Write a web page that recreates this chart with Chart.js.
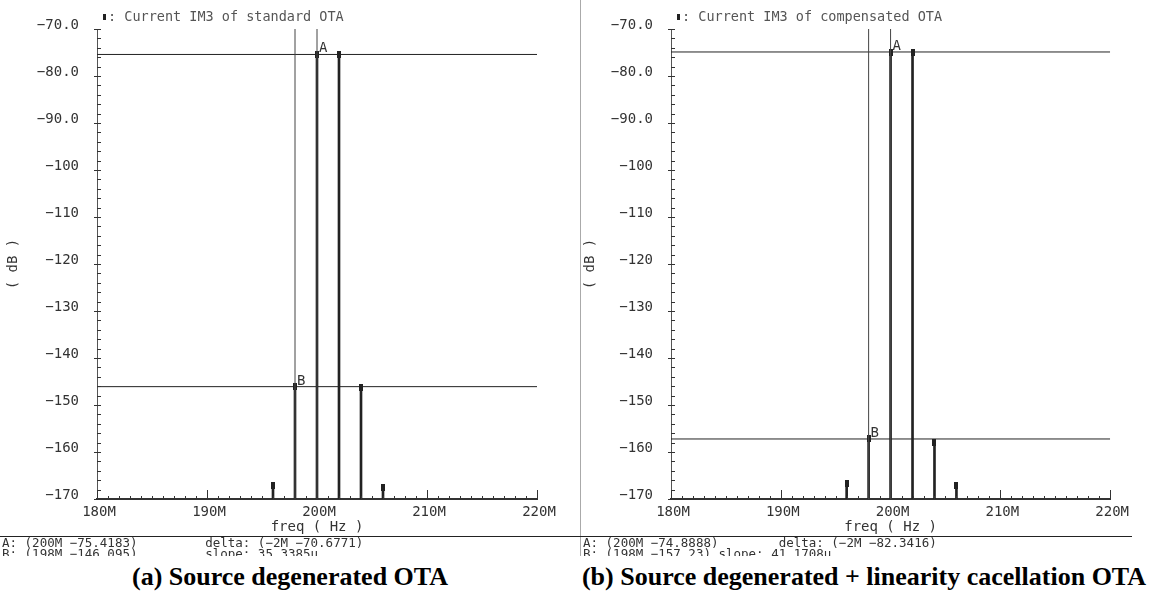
<!DOCTYPE html>
<html>
<head>
<meta charset="utf-8">
<script src="https://cdn.jsdelivr.net/npm/chart.js@4/dist/chart.umd.min.js"></script>
<style>
body { margin: 0; width: 1150px; height: 596px; background: #fff; overflow: hidden; position: relative; font-family: "DejaVu Sans Mono", monospace; }
.panel { position: absolute; top: 0; height: 540px; }
#leftWrap { left: 0; width: 580px; }
#rightWrap { left: 580px; width: 552px; }
.sep { position: absolute; left: 580px; top: 0; width: 1px; height: 556px; background: #aaa; }
.rule { position: absolute; top: 536px; height: 1px; background: #222; }
.readout { position: absolute; top: 537px; height: 19px; overflow: hidden; font-size: 12.5px; line-height: 11px; color: #333; white-space: pre; }
.caption { position: absolute; top: 562px; font-family: "Liberation Serif", serif; font-weight: bold; font-size: 26px; text-align: center; color: #000; }
</style>
</head>
<body>
<div class="panel" id="leftWrap"><canvas id="leftChart"></canvas></div>
<div class="panel" id="rightWrap"><canvas id="rightChart"></canvas></div>
<div class="sep"></div>
<div class="rule" style="left:0;width:580px"></div>
<div class="rule" style="left:580px;width:552px"></div>
<div class="readout" style="left:2px;width:570px">A: (200M −75.4183)         delta: (−2M −70.6771)
B: (198M −146.095)         slope: 35.3385u</div>
<div class="readout" style="left:583px;width:548px">A: (200M −74.8888)        delta: (−2M −82.3416)
B: (198M −157.23) slope: 41.1708u</div>
<div class="caption" style="left:0;width:580px">(a) Source degenerated OTA</div>
<div class="caption" style="left:578px;width:572px">(b) Source degenerated + linearity cacellation OTA</div>

<script>
// tone frequencies (MHz) and IM3 levels (dB)
const freqs = [196, 198, 200, 202, 204, 206];
const im3Standard = [-167.1, -146.1, -75.4, -75.4, -146.2, -167.5];
const im3Compensated = [-166.7, -157.2, -74.9, -74.9, -157.9, -167.2];

// cursor readouts [freq, dB]
const cursorAStd = [200, -75.4183];
const cursorBStd = [198, -146.095];
const cursorAComp = [200, -74.8888];
const cursorBComp = [198, -157.23];

const xMin = 180, xMax = 220;
const yMin = -170, yMax = -70;
const xTickLabels = ['180M', '190M', '200M', '210M', '220M'];
const yTickLabels = ['−170', '−160', '−150', '−140', '−130', '−120', '−110', '−100', '−90.0', '−80.0', '−70.0'];

const FONT = 'DejaVu Sans Mono';
const INK = '#333';

// little rectangle used as the point marker on top of each stem
const marker = document.createElement('canvas');
marker.width = 4;
marker.height = 7;
const mctx = marker.getContext('2d');
mctx.fillStyle = '#222';
mctx.fillRect(0, 0, 4, 7);

// minor/major ticks, legend line and cursor letters
const decorPlugin = {
    id: 'decor',
    afterDraw(chart) {
        const { ctx, chartArea: a, scales: { x, y } } = chart;
        const o = chart.options.plugins.decor;
        ctx.save();
        ctx.strokeStyle = INK;
        ctx.lineWidth = 1;
        ctx.beginPath();
        for (let f = xMin; f <= xMax; f += 1) {
            const px = Math.round(x.getPixelForValue(f)) + 0.5;
            const len = f % 10 === 0 ? 9 : 3;
            ctx.moveTo(px, a.bottom);
            ctx.lineTo(px, a.bottom - len);
        }
        for (let v = yMin; v <= yMax; v += 2) {
            const py = Math.round(y.getPixelForValue(v)) + 0.5;
            const major = v % 10 === 0;
            ctx.moveTo(a.left - (major ? 3 : 0), py);
            ctx.lineTo(a.left + 4, py);
        }
        ctx.stroke();

        // legend
        ctx.fillStyle = '#222';
        ctx.fillRect(a.left + 6, 14, 3, 6);
        ctx.fillStyle = '#555';
        ctx.font = '13.5px "' + FONT + '"';
        ctx.textBaseline = 'middle';
        ctx.fillText(': ' + o.legend, a.left + 11, 17);

        // cursor letters
        ctx.fillStyle = INK;
        ctx.font = '14px "' + FONT + '"';
        ctx.textBaseline = 'alphabetic';
        ctx.fillText('A', x.getPixelForValue(o.a[0]) + 2, y.getPixelForValue(o.a[1]) - 2);
        ctx.fillText('B', x.getPixelForValue(o.b[0]) + 2, y.getPixelForValue(o.b[1]) - 2);
        ctx.restore();
    }
};

function makeChart(canvasId, width, values, cursorA, cursorB, legendText, plotLeft, rightPad, titlePad) {
    const canvas = document.getElementById(canvasId);
    canvas.width = width;
    canvas.height = 540;

    const stems = freqs.map((f, i) => ({ x: f, y: [yMin, values[i]] }));
    const tops = freqs.map((f, i) => ({ x: f, y: values[i] }));

    new Chart(canvas.getContext('2d'), {
        type: 'bar',
        data: {
            datasets: [
                {
                    type: 'line',
                    data: [{ x: cursorA[0], y: yMin }, { x: cursorA[0], y: yMax }],
                    borderColor: '#444', borderWidth: 1, pointRadius: 0
                },
                {
                    type: 'line',
                    data: [{ x: cursorB[0], y: yMin }, { x: cursorB[0], y: yMax }],
                    borderColor: '#444', borderWidth: 1, pointRadius: 0
                },
                {
                    type: 'line',
                    data: [{ x: xMin, y: cursorA[1] }, { x: xMax, y: cursorA[1] }],
                    borderColor: '#222', borderWidth: 1, pointRadius: 0
                },
                {
                    type: 'line',
                    data: [{ x: xMin, y: cursorB[1] }, { x: xMax, y: cursorB[1] }],
                    borderColor: '#222', borderWidth: 1, pointRadius: 0
                },
                {
                    type: 'bar',
                    data: stems,
                    backgroundColor: '#222',
                    barThickness: 2,
                    borderWidth: 0
                },
                {
                    type: 'scatter',
                    data: tops,
                    pointStyle: marker,
                    pointRadius: 3
                }
            ]
        },
        options: {
            responsive: false,
            animation: false,
            events: [],
            layout: { padding: { top: 29, right: rightPad, left: 0, bottom: 0 } },
            plugins: {
                legend: { display: false },
                tooltip: { enabled: false },
                decor: { legend: legendText, a: cursorA, b: cursorB }
            },
            scales: {
                x: {
                    type: 'linear',
                    min: xMin,
                    max: xMax,
                    offset: false,
                    grid: { display: false, drawTicks: false, offset: false },
                    border: { display: true, color: '#333', width: 2 },
                    ticks: {
                        stepSize: 10,
                        padding: 5,
                        labelOffset: 2,
                        maxRotation: 0,
                        color: INK,
                        font: { family: FONT, size: 14 },
                        callback: v => xTickLabels[Math.round((v - xMin) / 10)]
                    },
                    title: {
                        display: true,
                        text: 'freq ( Hz )',
                        color: INK,
                        font: { family: FONT, size: 14 },
                        padding: { top: 0, bottom: 4 }
                    },
                    afterFit: s => { s.height = 41; }
                },
                y: {
                    type: 'linear',
                    min: yMin,
                    max: yMax,
                    beginAtZero: false,
                    grid: { display: false, drawTicks: false },
                    border: { display: true, color: '#555', width: 1 },
                    ticks: {
                        stepSize: 10,
                        padding: 18,
                        labelOffset: -4,
                        color: INK,
                        font: { family: FONT, size: 14 },
                        callback: v => yTickLabels[Math.round((v - yMin) / 10)]
                    },
                    title: {
                        display: true,
                        text: '( dB )',
                        color: INK,
                        font: { family: FONT, size: 14 },
                        padding: { top: titlePad, bottom: 0 }
                    },
                    afterFit: s => { s.width = plotLeft; }
                }
            }
        },
        plugins: [decorPlugin]
    });
}

makeChart('leftChart', 580, im3Standard, cursorAStd, cursorBStd, 'Current IM3 of standard OTA', 97, 43, 5);
makeChart('rightChart', 552, im3Compensated, cursorAComp, cursorBComp, 'Current IM3 of compensated OTA', 91, 21, 2);
</script>
</body>
</html>
